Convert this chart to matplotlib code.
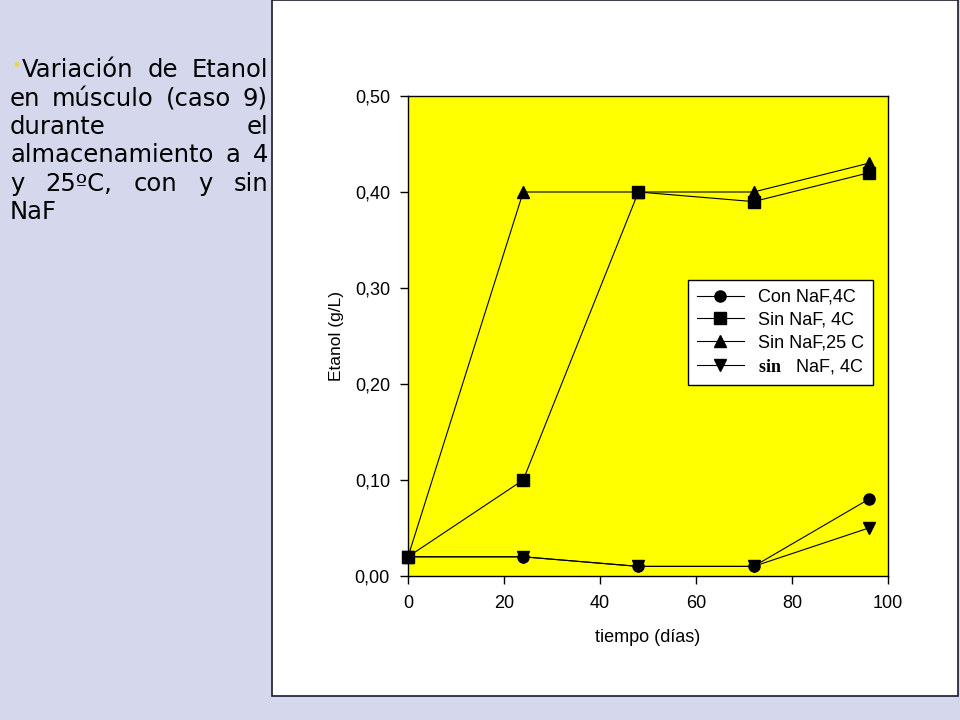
import matplotlib
matplotlib.use("Agg")
import matplotlib.pyplot as plt
from matplotlib.patches import Rectangle
from matplotlib.ticker import FuncFormatter

plt.rcParams['mathtext.fontset'] = 'custom'
plt.rcParams['mathtext.bf'] = 'Liberation Serif:bold'
plt.rcParams['mathtext.rm'] = 'Liberation Sans'

tiempo = [0, 24, 48, 72, 96]
con_naf_4c = [0.02, 0.02, 0.01, 0.01, 0.08]
sin_naf_4c = [0.02, 0.10, 0.40, 0.39, 0.42]
sin_naf_25c = [0.02, 0.40, 0.40, 0.40, 0.43]
sin_naf_4c_b = [0.02, 0.02, 0.01, 0.01, 0.05]

x_ticks = [0, 20, 40, 60, 80, 100]
y_ticks = [0.0, 0.1, 0.2, 0.3, 0.4, 0.5]

side_lines = [
    "Variación de Etanol",
    "en músculo (caso 9)",
    "durante el",
    "almacenamiento a 4",
    "y 25ºC, con y sin",
    "NaF",
]

fig = plt.figure(figsize=(9.6, 7.2), dpi=100)
fig.patch.set_facecolor('#D5D8EC')

# white slide panel behind the chart
panel = Rectangle((272 / 960, 1 - 696 / 720), (958 - 272) / 960, 696 / 720,
                  transform=fig.transFigure, facecolor='white',
                  edgecolor='#1a1a2a', linewidth=1.2, zorder=-5)
fig.patches.append(panel)

ax = fig.add_axes([408 / 960, 1 - 576 / 720, 480 / 960, 480 / 720])
ax.set_facecolor('#FFFF00')

kw = dict(color='black', linewidth=0.8, markersize=8, clip_on=False)
ax.plot(tiempo, con_naf_4c, marker='o', label='Con NaF,4C', **kw)
ax.plot(tiempo, sin_naf_4c, marker='s', label='Sin NaF, 4C', **kw)
ax.plot(tiempo, sin_naf_25c, marker='^', label='Sin NaF,25 C', **kw)
ax.plot(tiempo, sin_naf_4c_b, marker='v', label=r'$\mathbf{sin}$   NaF, 4C', **kw)

ax.set_xlim(0, 100)
ax.set_ylim(0, 0.5)
ax.set_xticks(x_ticks)
ax.set_yticks(y_ticks)
ax.yaxis.set_major_formatter(FuncFormatter(lambda v, p: f"{v:.2f}".replace('.', ',')))
ax.tick_params(direction='out', length=6, width=1, labelsize=13)
ax.tick_params(axis='x', pad=8)
ax.tick_params(axis='y', pad=7)
for lbl in ax.get_xticklabels() + ax.get_yticklabels():
    lbl.set_fontfamily('Liberation Sans')
for s in ax.spines.values():
    s.set_linewidth(1)

ax.set_xlabel('tiempo (días)', fontsize=13, family='Liberation Sans', labelpad=12)
ax.set_ylabel('Etanol (g/L)', fontsize=12.5, family='Liberation Sans', labelpad=8)

leg = ax.legend(loc='upper left', bbox_to_anchor=(0.583, 0.617), frameon=True,
                fancybox=False, edgecolor='black', framealpha=1, borderpad=0.5,
                borderaxespad=0, handlelength=2.6, labelspacing=0.32,
                handletextpad=0.8, prop={'family': 'Liberation Sans', 'size': 13})
leg.get_frame().set_linewidth(1)

# justified text block on the left
renderer = fig.canvas.get_renderer()
left_px, right_px = 10, 268
y0, dy = 70, 28.5
for i, line in enumerate(side_lines):
    y = 1 - (y0 + i * dy) / 720
    words = line.split(' ')
    if i == 0:
        left = 22
    else:
        left = left_px
    if i == len(side_lines) - 1 or len(words) == 1:
        fig.text(left / 960, y, line, fontsize=17.5, family='DejaVu Sans',
                 va='center', ha='left')
        continue
    items = [fig.text(0, y, w, fontsize=17.5, family='DejaVu Sans', va='center', ha='left')
             for w in words]
    widths = [t.get_window_extent(renderer).width for t in items]
    gap = (right_px - left - sum(widths)) / (len(words) - 1)
    x = left
    for t, w in zip(items, widths):
        t.set_x(x / 960)
        x += w + gap

fig.text(16 / 960, 1 - 66 / 720, '•', fontsize=12, color='#E8D840', va='center', ha='center')

fig.savefig('out.png', dpi=100, facecolor=fig.get_facecolor())
